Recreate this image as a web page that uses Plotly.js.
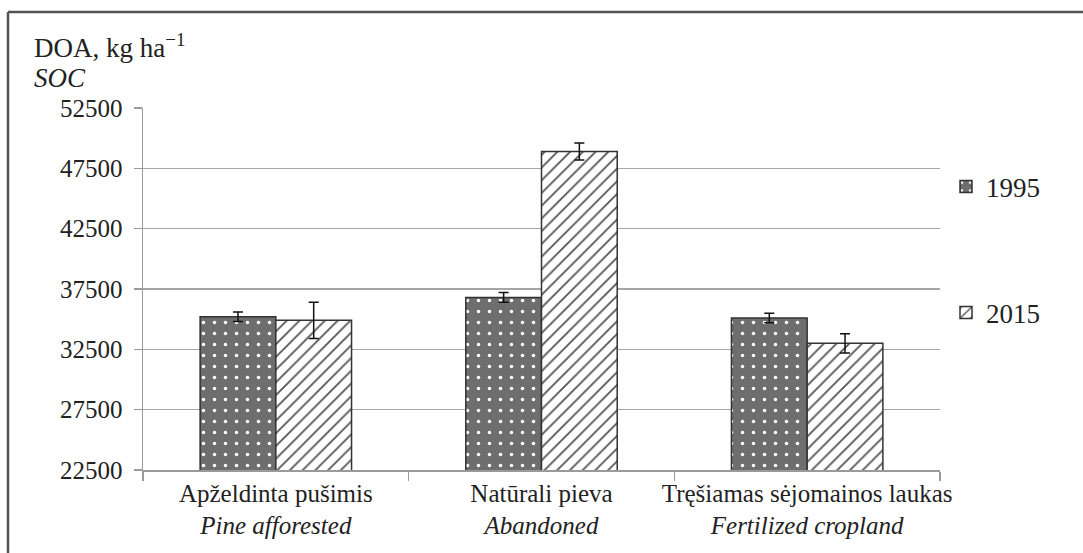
<!DOCTYPE html>
<html><head><meta charset="utf-8">
<script src="https://cdn.plot.ly/plotly-3.0.1.min.js"></script>
<style>
body{margin:0;background:#fff}
#chart{width:1083px;height:553px}
#chart text, #chart tspan { font-family: "Liberation Serif", "Times New Roman", serif !important; }
</style>
</head><body>
<div id="chart"></div>
<script>
const categories = [
  "Apželdinta pušimis<br><i>Pine afforested</i>",
  "Natūrali pieva<br><i>Abandoned</i>",
  "Tręšiamas sėjomainos laukas<br><i>Fertilized cropland</i>"
];
const values1995 = [35200, 36800, 35100];
const errors1995 = [400, 400, 400];
const values2015 = [34900, 48900, 33000];
const errors2015 = [1500, 700, 800];
const yTicks = [22500, 27500, 32500, 37500, 42500, 47500, 52500];

const FAM = "Liberation Serif";
const L = 143, R = 940, T = 108, B = 470;
const pw = R - L, ph = B - T;
const px = x => (x - L) / pw;
const py = y => (B - y) / ph;

const traces = [
  {
    type: "bar", name: "1995", x: categories, y: values1995, showlegend: true,
    error_y: {type: "data", array: errors1995, visible: true, color: "#111", thickness: 1.5, width: 5},
    marker: {color: "#707070", line: {color: "#333", width: 1.5},
      pattern: {shape: ".", fgcolor: "#ffffff", bgcolor: "#6e6e6e", size: 11, solidity: 0.08, fillmode: "replace"}},
    legend: "legend"
  },
  {
    type: "bar", name: "2015", x: categories, y: values2015, showlegend: true,
    error_y: {type: "data", array: errors2015, visible: true, color: "#111", thickness: 1.5, width: 5},
    marker: {color: "#ffffff", line: {color: "#333", width: 1.5},
      pattern: {shape: "/", fgcolor: "#555", bgcolor: "#ffffff", size: 9, solidity: 0.2, fillmode: "replace"}},
    legend: "legend2"
  }
];

const layout = {
  width: 1083, height: 553,
  showlegend: true,
  margin: {l: L, r: 1083 - R, t: T, b: 553 - B},
  paper_bgcolor: "#fff", plot_bgcolor: "#fff",
  font: {family: FAM, color: "#222", size: 24},
  barmode: "group", bargap: 0.43, bargroupgap: 0,
  xaxis: {
    type: "category", showline: true, linecolor: "#9a9a9a", linewidth: 1.5,
    ticks: "outside", tickson: "boundaries", ticklen: 9, tickcolor: "#9a9a9a", tickwidth: 1.5,
    tickangle: 0, automargin: false,
    tickfont: {family: FAM, size: 25, color: "#222"}, showgrid: false
  },
  yaxis: {
    range: [22500, 52500], tickvals: yTicks, ticktext: yTicks.map(String),
    showline: true, linecolor: "#9a9a9a", linewidth: 1.5,
    ticks: "outside", ticklen: 8, tickcolor: "#9a9a9a", tickwidth: 1.5,
    gridcolor: "#a5a5a5", gridwidth: 1.5, zeroline: false, automargin: false,
    ticklabelstandoff: 6,
    tickfont: {family: FAM, size: 25, color: "#222"}
  },
  legend: {visible: true, x: px(946), y: py(187), xanchor: "left", yanchor: "middle",
    font: {family: FAM, size: 27, color: "#222"}, bgcolor: "rgba(0,0,0,0)", itemwidth: 30},
  legend2: {visible: true, x: px(946), y: py(313), xanchor: "left", yanchor: "middle",
    font: {family: FAM, size: 27, color: "#222"}, bgcolor: "rgba(0,0,0,0)", itemwidth: 30},
  annotations: [
    {xref: "paper", yref: "paper", x: px(32), y: py(46), xanchor: "left", yanchor: "middle",
     text: "DOA, kg ha<sup>−1</sup>", showarrow: false, font: {family: FAM, size: 27, color: "#222"}},
    {xref: "paper", yref: "paper", x: px(32), y: py(78), xanchor: "left", yanchor: "middle",
     text: "<i>SOC</i>", showarrow: false, font: {family: FAM, size: 27, color: "#222"}}
  ],
  shapes: [
    {type: "line", xref: "paper", yref: "paper", x0: px(8), x1: px(1200), y0: py(12), y1: py(12),
     line: {color: "#555", width: 2.5}},
    {type: "line", xref: "paper", yref: "paper", x0: px(8), x1: px(8), y0: py(12), y1: py(700),
     line: {color: "#555", width: 2.5}}
  ]
};

Plotly.newPlot("chart", traces, layout, {displayModeBar: false, staticPlot: true});
</script></body></html>
